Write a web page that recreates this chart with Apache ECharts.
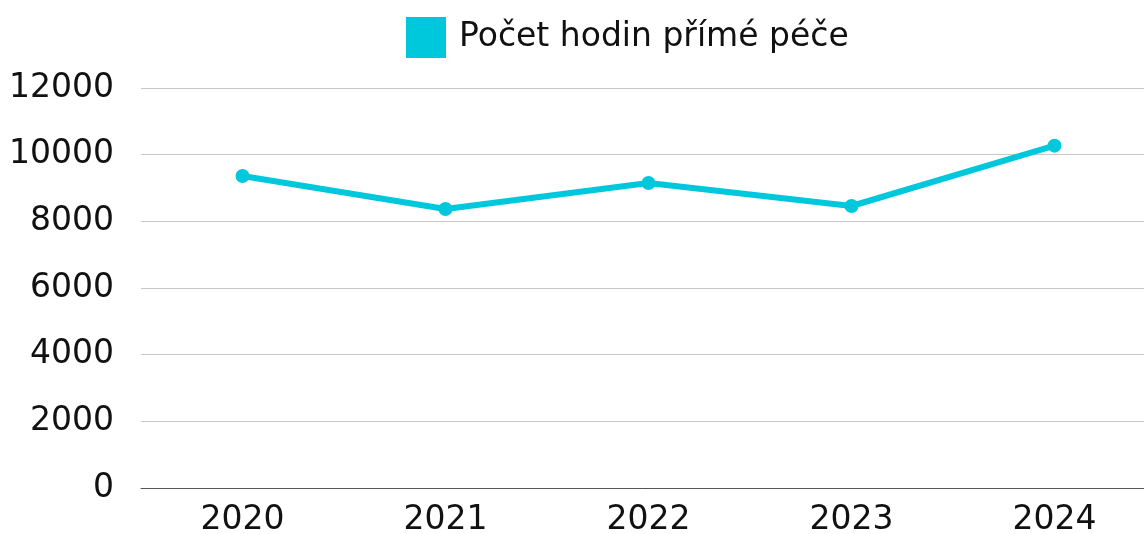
<!DOCTYPE html>
<html>
<head>
<meta charset="utf-8">
<script src="https://cdn.jsdelivr.net/npm/echarts@6/dist/echarts.min.js"></script>
<style>
html, body { margin: 0; padding: 0; background: #fff; }
#chart { width: 1144px; height: 534px; }
</style>
</head>
<body>
<div id="chart"></div>
<script>
var years = ['2020', '2021', '2022', '2023', '2024'];
var hodiny = [9360, 8370, 9150, 8460, 10270];
var seriesName = 'Počet hodin přímé péče';

var chart = echarts.init(document.getElementById('chart'));

var option = {
    animation: false,
    textStyle: { fontFamily: 'DejaVu Sans' },
    legend: {
        top: 12,
        left: 401,
        itemWidth: 40,
        itemHeight: 41,
        icon: 'rect',
        data: [seriesName],
        textStyle: { fontSize: 33, color: '#111', fontFamily: 'DejaVu Sans', padding: [0, 0, 0, 8] }
    },
    grid: {
        left: 141,
        top: 88,
        width: 1015,
        height: 400,
        outerBoundsMode: 'none'
    },
    xAxis: {
        type: 'category',
        data: years,
        axisTick: { show: false },
        axisLine: { lineStyle: { color: '#555', width: 1 } },
        axisLabel: { fontSize: 33, color: '#111', margin: 16 }
    },
    yAxis: {
        type: 'value',
        min: 0,
        max: 12000,
        interval: 2000,
        axisLabel: { fontSize: 33, color: '#111', margin: 27, formatter: function (v) { return String(v); } },
        splitLine: { lineStyle: { color: '#c8c8c8', width: 1 } }
    },
    series: [{
        name: seriesName,
        type: 'line',
        data: hodiny,
        symbol: 'circle',
        symbolSize: 14,
        itemStyle: { color: '#00C8DC' },
        lineStyle: { width: 6, color: '#00C8DC' }
    }]
};

chart.setOption(option);
</script>
</body>
</html>
